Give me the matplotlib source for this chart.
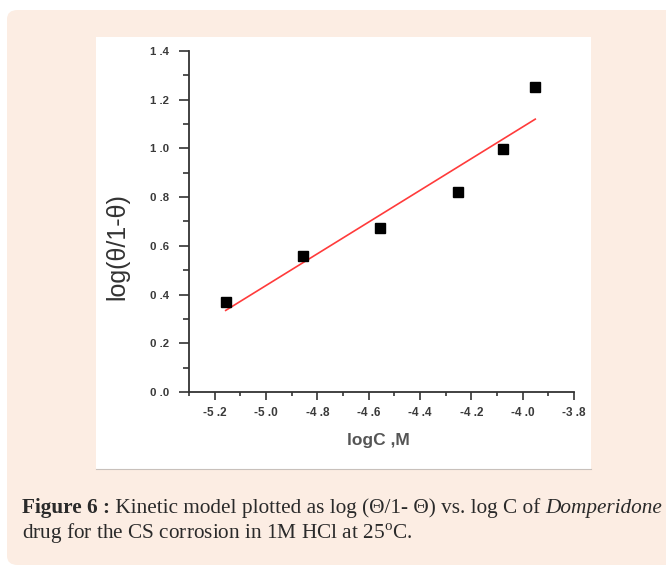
import numpy as np
import matplotlib.pyplot as plt
from matplotlib.patches import FancyBboxPatch, Rectangle
from matplotlib.ticker import MultipleLocator, FuncFormatter

# log C (M) and log(theta/1-theta) for Domperidone in 1M HCl at 25 C
log_c = np.array([-5.157, -4.855, -4.554, -4.253, -4.077, -3.951])
log_theta = np.array([0.371, 0.558, 0.675, 0.822, 0.999, 1.251])

x_ticks_step = 0.2
y_ticks_step = 0.2

W, H = 666, 567
fig = plt.figure(figsize=(W / 100, H / 100), dpi=100)
fig.patch.set_facecolor('white')


def px(x, y):
    # pixel position (from top-left) -> figure fraction
    return x / W, 1 - y / H


# peach card behind everything
card = FancyBboxPatch((7 / W, 1 - 565 / H), 700 / W, 555 / H,
                      boxstyle="round,pad=0,rounding_size=0.016",
                      transform=fig.transFigure, facecolor='#fcede3',
                      edgecolor='none', zorder=0)
fig.patches.append(card)

# white panel holding the graph
panel = Rectangle((96 / W, 1 - 469 / H), 495 / W, 432 / H,
                  transform=fig.transFigure, facecolor='white',
                  edgecolor='none', zorder=1)
fig.patches.append(panel)
fig.lines.append(plt.Line2D([96 / W, 591 / W], [1 - 469 / H] * 2,
                            transform=fig.transFigure, color='#c8c0bb',
                            lw=0.8, zorder=2))

ax = fig.add_axes([189 / W, 1 - 392 / H, 385 / W, 341 / H], zorder=3)
ax.patch.set_alpha(0)

# linear fit of the kinetic model
slope, intercept = np.polyfit(log_c, log_theta, 1)
xf = np.array([log_c.min(), log_c.max()])
ax.plot(xf, slope * xf + intercept, color='#ff3b3b', lw=1.2, zorder=2)
ax.plot(log_c, log_theta, 's', color='black', ms=7.8, zorder=3)

ax.set_xlim(-5.3, -3.8)
ax.set_ylim(0, 1.4)
for side in ['top', 'right']:
    ax.spines[side].set_visible(False)
for side in ['left', 'bottom']:
    ax.spines[side].set_color('#333333')
    ax.spines[side].set_linewidth(1.3)

ax.xaxis.set_major_locator(MultipleLocator(x_ticks_step))
ax.xaxis.set_minor_locator(MultipleLocator(x_ticks_step / 2))
ax.yaxis.set_major_locator(MultipleLocator(y_ticks_step))
ax.yaxis.set_minor_locator(MultipleLocator(y_ticks_step / 2))
fmt = FuncFormatter(lambda v, p: f"{v:.1f}".replace(".", " ."))
ax.xaxis.set_major_formatter(fmt)
ax.yaxis.set_major_formatter(fmt)
ax.set_xticks([-5.2 + i * 0.2 for i in range(8)])

ax.tick_params(axis='x', which='major', direction='out', length=5.5, width=1.2,
               color='#333333', pad=5, labelsize=8.5, labelcolor='#3a3a3a')
ax.tick_params(axis='x', which='minor', direction='out', length=3, width=1.2,
               color='#333333')
ax.tick_params(axis='y', which='major', direction='out', length=7.5, width=1.2,
               color='#333333', pad=7, labelsize=8.2, labelcolor='#3a3a3a')
ax.tick_params(axis='y', which='minor', direction='out', length=4, width=1.2,
               color='#333333')
for lab in ax.get_xticklabels() + ax.get_yticklabels():
    lab.set_family('Liberation Sans')
    lab.set_fontweight('bold')

fig.text(*px(117, 247), 'log(θ/1-θ)', rotation=90, ha='center', va='center',
         fontsize=18, family='Liberation Sans', color='#333333', zorder=4)
fig.text(*px(378, 441), 'logC ,M', ha='center', va='center', fontsize=12.5,
         family='Liberation Sans', fontweight='bold', color='#555555', zorder=4)

# caption under the graph, two lines
fig.canvas.draw()
renderer = fig.canvas.get_renderer()
cap_font = 'Liberation Serif'
cap_color = '#2a2a2a'


def put_runs(runs, x0, y, size):
    x = x0
    texts = []
    for s, kw in runs:
        t = fig.text(x / W, 1 - y / H, s, ha='left', va='baseline',
                     fontsize=size, family=cap_font, color=cap_color,
                     zorder=4, **kw)
        bb = t.get_window_extent(renderer)
        x += bb.width
        texts.append(t)
    return x, texts


line1 = [('Figure 6 :', dict(fontweight='bold')),
         (' Kinetic model plotted as log (Θ/1- Θ) vs. log C of ', {}),
         ('Domperidone', dict(style='italic'))]
line2 = [('drug for the CS corrosion in 1M HCl at 25$^{\\mathregular{o}}$C.', {})]

size = 12
end, texts = put_runs(line1, 22, 513, size)
for t in texts:
    t.remove()
size = size * 640 / (end - 22)
put_runs(line1, 22, 513, size)
put_runs(line2, 22, 539, size)

fig.savefig('out.png', dpi=100, facecolor=fig.get_facecolor())
